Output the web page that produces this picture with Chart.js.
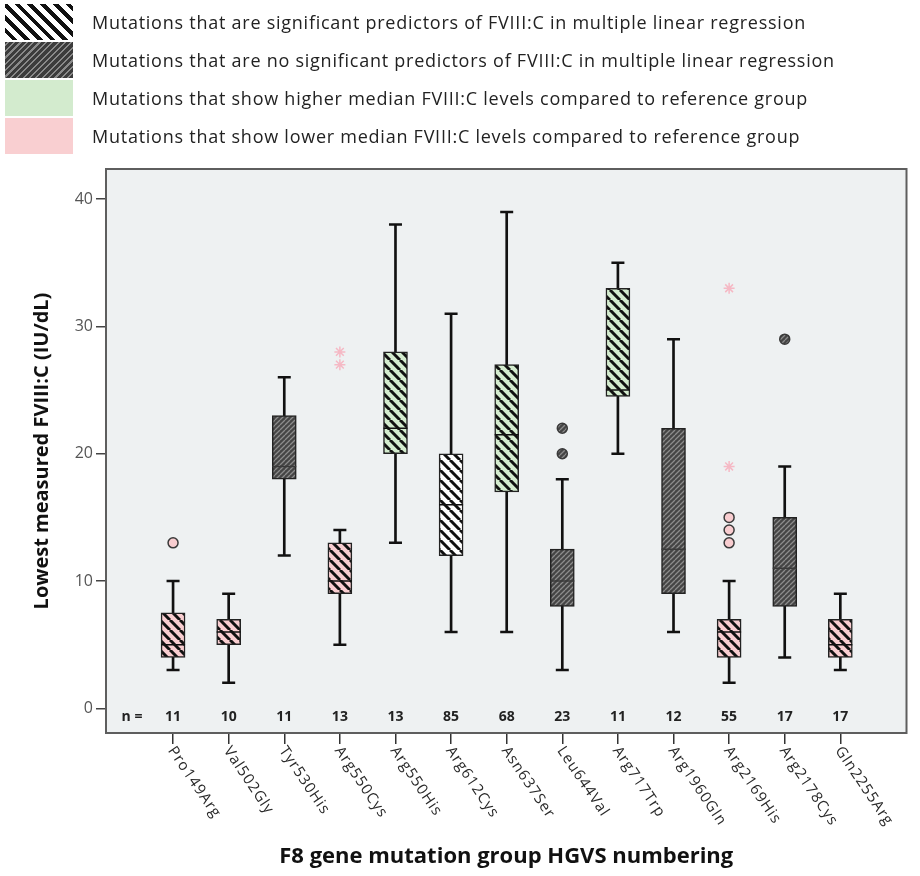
<!DOCTYPE html>
<html>
<head>
<meta charset="utf-8">
<script src="https://cdn.jsdelivr.net/npm/chart.js@4.4.1/dist/chart.umd.min.js"></script>
<style>
    body { margin: 0; background: #fff; }
    .wrap { position: relative; width: 920px; height: 876px; }
    #chart { position: absolute; left: 0; top: 0; }
    .legend { position: absolute; left: 5px; top: 3px; }
    .legend-row { display: flex; align-items: center; height: 38px; }
    .swatch { width: 68px; height: 36px; margin-right: 19px; }
    .legend-row span { font-family: 'Open Sans', sans-serif; font-size: 18px; letter-spacing: 0.75px; color: #222; }
    .sw-white { background: repeating-linear-gradient(45deg, #fff 0 5px, #111 5px 9px); }
    .sw-dark { background: repeating-linear-gradient(-45deg, #3c3c3c 0 3px, #8a8a8a 3px 4.5px); }
    .sw-green { background: #d3ebce; }
    .sw-pink { background: #f9cfd1; }
</style>
</head>
<body>
<div class="wrap">
    <canvas id="chart" width="920" height="876"></canvas>
    <div class="legend">
        <div class="legend-row"><div class="swatch sw-white"></div><span>Mutations that are significant predictors of FVIII:C in multiple linear regression</span></div>
        <div class="legend-row"><div class="swatch sw-dark"></div><span>Mutations that are no significant predictors of FVIII:C in multiple linear regression</span></div>
        <div class="legend-row"><div class="swatch sw-green"></div><span>Mutations that show higher median FVIII:C levels compared to reference group</span></div>
        <div class="legend-row"><div class="swatch sw-pink"></div><span>Mutations that show lower median FVIII:C levels compared to reference group</span></div>
    </div>
</div>
<script>
// data
const mutations = ['Pro149Arg', 'Val502Gly', 'Tyr530His', 'Arg550Cys', 'Arg550His', 'Arg612Cys', 'Asn637Ser',
    'Leu644Val', 'Arg717Trp', 'Arg1960Gln', 'Arg2169His', 'Arg2178Cys', 'Gln2255Arg'];
const nCounts = [11, 10, 11, 13, 13, 85, 68, 23, 11, 12, 55, 17, 17];
const whiskerLow = [3, 2, 12, 5, 13, 6, 6, 3, 20, 6, 2, 4, 3];
const q1 = [4, 5, 18, 9, 20, 12, 17, 8, 24.5, 9, 4, 8, 4];
const medians = [5, 6, 19, 10, 22, 16, 21.5, 10, 25, 12.5, 6, 11, 5];
const q3 = [7.5, 7, 23, 13, 28, 20, 27, 12.5, 33, 22, 7, 15, 7];
const whiskerHigh = [10, 9, 26, 14, 38, 31, 39, 18, 35, 29, 10, 19, 9];
const groups = ['pink', 'pink', 'dark', 'pink', 'green', 'white', 'green', 'dark', 'green', 'dark', 'pink', 'dark', 'pink'];
const outlierCircles = [[13], [], [], [], [], [], [], [20, 22], [], [], [13, 14, 15], [29], []];
const outlierStars = [[], [], [], [27, 28], [], [], [], [], [], [], [19, 33], [], []];
const yTickStep = 10;

// hatch patterns
function makePattern(bg, stripe, size, lineW, dir) {
    const c = document.createElement('canvas');
    c.width = size; c.height = size;
    const g = c.getContext('2d');
    g.fillStyle = bg;
    g.fillRect(0, 0, size, size);
    g.strokeStyle = stripe;
    g.lineWidth = lineW;
    g.beginPath();
    for (let k = -1; k <= 1; k++) {
        if (dir === 'back') {
            g.moveTo(k * size, 0); g.lineTo(k * size + size, size);
        } else {
            g.moveTo(k * size, size); g.lineTo(k * size + size, 0);
        }
    }
    g.stroke();
    return g.createPattern(c, 'repeat');
}

const ctx = document.getElementById('chart').getContext('2d');
const fills = {
    pink: makePattern('#f8cdd0', '#111', 10, 3, 'back'),
    green: makePattern('#d3ebce', '#111', 10, 3, 'back'),
    white: makePattern('#ffffff', '#111', 10, 3, 'back'),
    dark: makePattern('#454545', '#8c8c8c', 5, 1.3, 'fwd')
};
const circleFills = { pink: '#f8cdd0', green: '#d3ebce', white: '#fff', dark: fills.dark };

const circlePts = [];
const circleColors = [];
outlierCircles.forEach((vals, i) => vals.forEach(v => {
    circlePts.push({ x: i, y: v });
    circleColors.push(circleFills[groups[i]]);
}));
const starPts = [];
outlierStars.forEach((vals, i) => vals.forEach(v => starPts.push({ x: i, y: v })));

const capPts = [];
mutations.forEach((m, i) => {
    capPts.push({ x: i, y: whiskerLow[i] });
    capPts.push({ x: i, y: whiskerHigh[i] });
});

const boxPlugin = {
    id: 'boxExtras',
    beforeDraw(chart) {
        const a = chart.chartArea;
        const c = chart.ctx;
        c.save();
        c.fillStyle = '#eef1f2';
        c.fillRect(a.left, a.top, a.right - a.left, a.bottom - a.top);
        c.restore();
    },
    afterDraw(chart) {
        const a = chart.chartArea;
        const c = chart.ctx;
        const xs = chart.scales.x;
        const ys = chart.scales.y;
        c.save();
        c.strokeStyle = '#5e5e5e';
        c.lineWidth = 2;
        c.strokeRect(a.left, a.top, a.right - a.left, a.bottom - a.top);

        // n = row
        c.fillStyle = '#222';
        c.font = 'bold 14px "Open Sans"';
        c.textAlign = 'center';
        c.textBaseline = 'middle';
        const ny = ys.getPixelForValue(-0.7);
        c.fillText('n =', a.left + 26, ny);
        nCounts.forEach((n, i) => c.fillText(String(n), xs.getPixelForValue(i), ny));

        // rotated category labels
        c.font = '15px "Open Sans"';
        c.fillStyle = '#2a2a2a';
        c.textAlign = 'left';
        c.letterSpacing = '1px';
        mutations.forEach((m, i) => {
            c.save();
            c.translate(xs.getPixelForValue(i) - 2, a.bottom + 15);
            c.rotate(56 * Math.PI / 180);
            c.fillText(m, 0, 0);
            c.restore();
        });
        c.restore();
    }
};

new Chart(ctx, {
    type: 'bar',
    data: {
        datasets: [{
            label: 'whisker',
            data: mutations.map((m, i) => ({ x: i, y: [whiskerLow[i], whiskerHigh[i]] })),
            backgroundColor: '#111',
            barThickness: 2,
            grouped: false,
            order: 5
        }, {
            label: 'box',
            data: mutations.map((m, i) => ({ x: i, y: [q1[i], q3[i]] })),
            backgroundColor: groups.map(g => fills[g]),
            borderColor: '#222',
            borderWidth: 1.5,
            borderSkipped: false,
            barThickness: 24,
            grouped: false,
            order: 4
        }, {
            type: 'scatter',
            label: 'median',
            data: mutations.map((m, i) => ({ x: i, y: medians[i] })),
            pointStyle: 'line',
            pointRadius: 12,
            pointBorderWidth: 1.5,
            pointBorderColor: groups.map(g => g === 'dark' ? '#3a3a3a' : '#111'),
            order: 3
        }, {
            type: 'scatter',
            label: 'caps',
            data: capPts,
            pointStyle: 'line',
            pointRadius: 6.5,
            pointBorderWidth: 2.5,
            pointBorderColor: '#111',
            order: 2
        }, {
            type: 'scatter',
            label: 'outliers',
            data: circlePts,
            pointRadius: 5,
            pointBorderWidth: 1.5,
            pointBorderColor: '#3a3a3a',
            pointBackgroundColor: circleColors,
            order: 1
        }, {
            type: 'scatter',
            label: 'extremes',
            data: starPts,
            pointStyle: 'star',
            pointRadius: 5.5,
            pointBorderWidth: 1.5,
            pointBorderColor: '#f5b9c5',
            order: 0
        }]
    },
    options: {
        responsive: false,
        animation: false,
        events: [],
        layout: { padding: { top: 169, right: 2, left: 0, bottom: 0 } },
        plugins: { legend: { display: false }, tooltip: { enabled: false } },
        scales: {
            x: {
                type: 'linear',
                min: -1.206,
                max: 13.19,
                offset: false,
                afterFit: s => { s.height = 143; },
                afterBuildTicks: s => {
                    s.ticks = mutations.map((m, i) => ({ value: i }));
                },
                ticks: { display: false, stepSize: 1 },
                grid: { offset: false, drawOnChartArea: false, drawTicks: true, tickLength: 11, color: '#333', lineWidth: 1.5 },
                border: { display: false },
                title: {
                    display: true,
                    text: 'F8 gene mutation group HGVS numbering',
                    color: '#111',
                    font: { family: 'Open Sans', size: 22, weight: 'bold' },
                    padding: { top: 0, bottom: 6 }
                }
            },
            y: {
                min: -1.94,
                max: 42.37,
                afterFit: s => { s.width = 106; },
                ticks: {
                    stepSize: yTickStep,
                    includeBounds: false,
                    color: '#555',
                    padding: 3,
                    font: { family: 'Open Sans', size: 16 }
                },
                grid: { drawOnChartArea: false, drawTicks: true, tickLength: 10, color: '#444', lineWidth: 1.5 },
                border: { display: false },
                title: {
                    display: true,
                    text: 'Lowest measured FVIII:C (IU/dL)',
                    color: '#111',
                    font: { family: 'Open Sans', size: 20, weight: 'bold' },
                    padding: { top: 30, bottom: 0 }
                }
            }
        }
    },
    plugins: [boxPlugin]
});
</script>
</body>
</html>
